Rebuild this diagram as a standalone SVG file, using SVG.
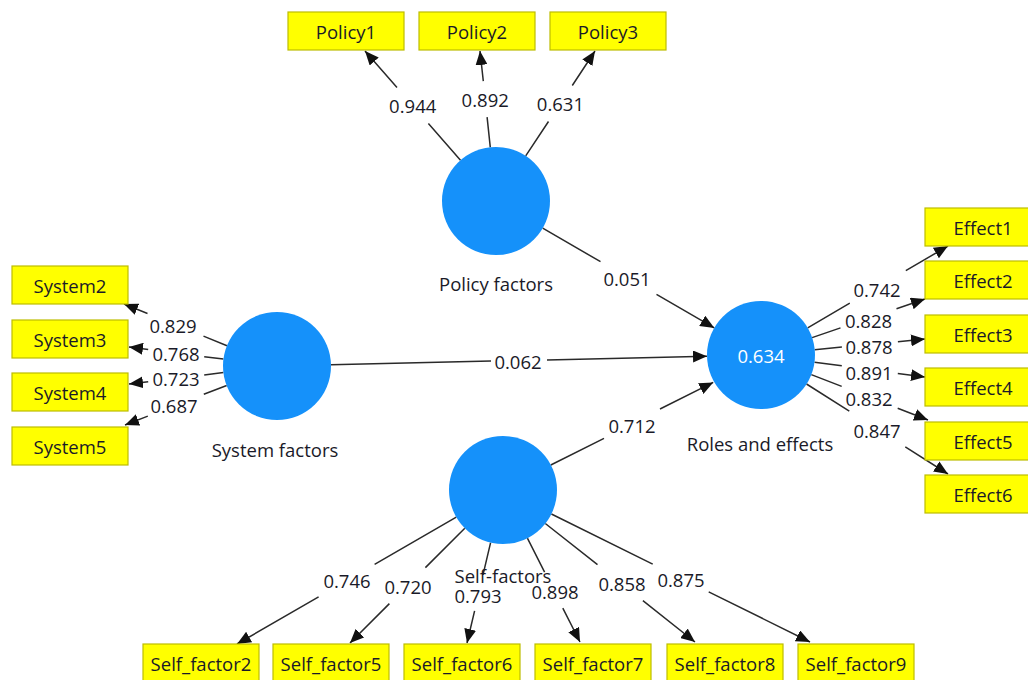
<svg xmlns="http://www.w3.org/2000/svg" width="1028" height="680" viewBox="0 0 1028 680">
<style>
.bg{fill:#ffffff}
.box{fill:#ffff00;stroke:#bdbd00;stroke-width:1.2}
.lv{fill:#1591fa}
.t{font-family:"Open Sans","Noto Sans","Liberation Sans",sans-serif;font-size:18.5px;fill:#1a1a28;text-anchor:middle;dominant-baseline:central}
.c{fill:none;stroke:#2a2a2a;stroke-width:1.5;marker-end:url(#ah)}
</style>
<defs>
<marker id="ah" markerUnits="userSpaceOnUse" markerWidth="15" markerHeight="12" refX="14" refY="6" orient="auto">
<path d="M0,0 L14,6 L0,12 Z" fill="#111"/>
</marker>
</defs>
<rect class="bg" x="0" y="0" width="1028" height="680"/>

<g id="connectors">
<path class="c" d="M460.5,160.3 L428.4,123.6 M397,87.6 L365,51"/>
<path class="c" d="M490.3,147.3 L487.1,117.2 M483.3,81.2 L480,51"/>
<path class="c" d="M525.7,155.9 L548.5,121.5 M572.3,85.5 L595,51"/>
<path class="c" d="M542.7,228.1 L600.5,261.7 M656.5,294.3 L714.3,327.9"/>
<path class="c" d="M331,364.8 L491,361.1 M547,359.9 L707,356.2"/>
<path class="c" d="M550.8,465 L604,438.3 M660,409 L713.2,382.4"/>
<path class="c" d="M227,345.7 L203.5,336.1 M147.5,313.5 L124,304"/>
<path class="c" d="M223.4,359.1 L204.2,356.7 M148.2,349.5 L129,347"/>
<path class="c" d="M223.4,372.5 L204.2,374.9 M148.2,381.7 L129,384"/>
<path class="c" d="M226.7,385.5 L203.8,394.3 M147.8,416.1 L125,425"/>
<path class="c" d="M807.7,327.8 L849.8,303.2 M905.8,270.6 L948,246"/>
<path class="c" d="M812.1,337.6 L840.5,327.9 M896.5,308.7 L925,299"/>
<path class="c" d="M814.7,349.8 L841.9,347.1 M897.9,341.7 L925,339"/>
<path class="c" d="M814.5,362.2 L841.8,365.8 M897.8,373.4 L925,377"/>
<path class="c" d="M811.3,374.6 L841.7,386.4 M897.7,408.2 L928,420"/>
<path class="c" d="M806.5,384 L849.3,411.2 M905.3,446.8 L948,474"/>
<path class="c" d="M456.3,517.1 L374.6,564.4 M318.6,596.8 L237,644"/>
<path class="c" d="M464.8,528.2 L425.4,567.6 M389.4,603.6 L350,643"/>
<path class="c" d="M490.6,542.6 L483,574.8 M474.6,610.8 L467,643"/>
<path class="c" d="M527.4,538.2 L544.6,572.1 M562.8,608.1 L580,642"/>
<path class="c" d="M545.3,523.5 L597.5,564.7 M642.9,600.7 L695,642"/>
<path class="c" d="M551.4,514 L652.7,564.2 M708.7,591.8 L810,642"/>
<text class="t" x="412.7" y="105.6">0.944</text>
<text class="t" x="485.2" y="99.2">0.892</text>
<text class="t" x="560.4" y="103.5">0.631</text>
<text class="t" x="627" y="278">0.051</text>
<text class="t" x="518" y="361.5">0.062</text>
<text class="t" x="632" y="425.5">0.712</text>
<text class="t" x="173" y="325.5">0.829</text>
<text class="t" x="176" y="353">0.768</text>
<text class="t" x="176" y="378">0.723</text>
<text class="t" x="174" y="405">0.687</text>
<text class="t" x="877" y="289">0.742</text>
<text class="t" x="868.5" y="320.5">0.828</text>
<text class="t" x="869" y="346.5">0.878</text>
<text class="t" x="869" y="372">0.891</text>
<text class="t" x="869" y="398.5">0.832</text>
<text class="t" x="877" y="430">0.847</text>
<text class="t" x="347" y="580">0.746</text>
<text class="t" x="408" y="586">0.720</text>
<text class="t" x="478" y="595">0.793</text>
<text class="t" x="555" y="591">0.898</text>
<text class="t" x="622" y="583">0.858</text>
<text class="t" x="681" y="579">0.875</text>
</g>

<g id="policy-factors">
<circle class="lv" cx="496" cy="201" r="54"/>
<text class="t" x="496" y="283">Policy factors</text>
</g>
<g id="system-factors">
<circle class="lv" cx="277" cy="366" r="54"/>
<text class="t" x="275" y="449">System factors</text>
</g>
<g id="roles-and-effects">
<circle class="lv" cx="761" cy="355" r="54"/>
<text class="t" x="761" y="355" style="fill:#ffffff">0.634</text>
<text class="t" x="760" y="443">Roles and effects</text>
</g>
<g id="self-factors">
<circle class="lv" cx="503" cy="490" r="54"/>
<text class="t" x="503" y="575">Self-factors</text>
</g>

<g id="policy1"><rect class="box" x="288" y="12" width="116" height="38"/><text class="t" x="346" y="31">Policy1</text></g>
<g id="policy2"><rect class="box" x="419" y="12" width="116" height="38"/><text class="t" x="477" y="31">Policy2</text></g>
<g id="policy3"><rect class="box" x="550" y="12" width="116" height="38"/><text class="t" x="608" y="31">Policy3</text></g>

<g id="system2"><rect class="box" x="12" y="266" width="116" height="38"/><text class="t" x="70" y="285">System2</text></g>
<g id="system3"><rect class="box" x="12" y="320" width="116" height="38"/><text class="t" x="70" y="339">System3</text></g>
<g id="system4"><rect class="box" x="12" y="373" width="116" height="38"/><text class="t" x="70" y="392">System4</text></g>
<g id="system5"><rect class="box" x="12" y="427" width="116" height="38"/><text class="t" x="70" y="446">System5</text></g>

<g id="effect1"><rect class="box" x="925" y="208" width="116" height="38"/><text class="t" x="983" y="227">Effect1</text></g>
<g id="effect2"><rect class="box" x="925" y="261" width="116" height="38"/><text class="t" x="983" y="280">Effect2</text></g>
<g id="effect3"><rect class="box" x="925" y="315" width="116" height="38"/><text class="t" x="983" y="334">Effect3</text></g>
<g id="effect4"><rect class="box" x="925" y="368" width="116" height="38"/><text class="t" x="983" y="387">Effect4</text></g>
<g id="effect5"><rect class="box" x="925" y="422" width="116" height="38"/><text class="t" x="983" y="441">Effect5</text></g>
<g id="effect6"><rect class="box" x="925" y="475" width="116" height="38"/><text class="t" x="983" y="494">Effect6</text></g>

<g id="self_factor2"><rect class="box" x="143" y="644" width="116" height="38"/><text class="t" x="201" y="663">Self_factor2</text></g>
<g id="self_factor5"><rect class="box" x="273" y="644" width="116" height="38"/><text class="t" x="331" y="663">Self_factor5</text></g>
<g id="self_factor6"><rect class="box" x="404" y="644" width="116" height="38"/><text class="t" x="462" y="663">Self_factor6</text></g>
<g id="self_factor7"><rect class="box" x="535" y="644" width="116" height="38"/><text class="t" x="593" y="663">Self_factor7</text></g>
<g id="self_factor8"><rect class="box" x="667" y="644" width="116" height="38"/><text class="t" x="725" y="663">Self_factor8</text></g>
<g id="self_factor9"><rect class="box" x="798" y="644" width="116" height="38"/><text class="t" x="856" y="663">Self_factor9</text></g>
</svg>
